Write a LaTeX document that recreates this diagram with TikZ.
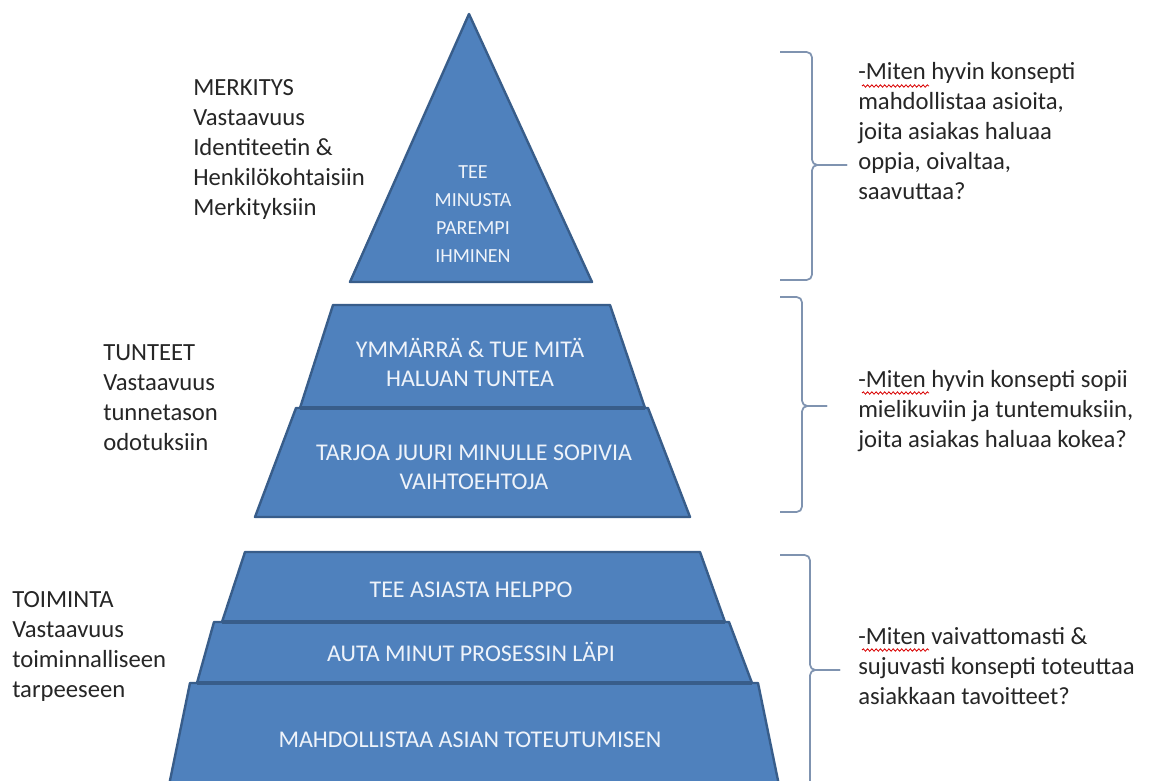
\documentclass[tikz,border=0pt]{standalone}
\usepackage{fontspec}
\setmainfont{Carlito}
\usetikzlibrary{decorations.pathmorphing}
\definecolor{pyrfill}{HTML}{4F81BD}
\definecolor{pyrdraw}{HTML}{385D8A}
\definecolor{bracecol}{HTML}{7F93B0}
\definecolor{txt}{HTML}{262626}
\definecolor{wtxt}{HTML}{EEF3FA}
\begin{document}
\begin{tikzpicture}[x=0.75pt,y=-0.75pt,
  block/.style={fill=pyrfill,draw=pyrdraw,line width=1.8pt,line join=round},
  blocktext/.style={text=wtxt,font=\fontsize{18}{21.75}\selectfont,align=center,inner sep=0pt},
  toptext/.style={text=wtxt,font=\fontsize{15}{21}\selectfont,align=center,inner sep=0pt},
  sidetext/.style={text=txt,font=\fontsize{18.5}{22.5}\selectfont,align=left,anchor=base west,inner sep=0pt},
  bracestyle/.style={draw=bracecol,line width=1.3pt,rounded corners=4pt},
  spell/.style={draw=red!85!black,line width=0.6pt,decorate,decoration={snake,amplitude=0.9pt,segment length=3.2pt}}]
\useasboundingbox (0,0) rectangle (1154,781);
\clip (0,0) rectangle (1154,781);
\fill[white] (0,0) rectangle (1154,781);

% top triangle
\path[block] (469,14) -- (592,282) -- (350,282) -- cycle;
\node[toptext] (t1) at (473,214) {TEE\\MINUSTA\\PAREMPI\\IHMINEN};

% middle section
\path[block] (333,305) -- (610,305) -- (645,408) -- (300,408) -- cycle;
\path[block] (296,408) -- (648,408) -- (690,517) -- (255,517) -- cycle;
\path[block,line width=2.6pt] (300,408) -- (645,408);
\node[blocktext] (m1) at (470,362) {YMMÄRRÄ \& TUE MITÄ\\HALUAN TUNTEA};
\node[blocktext] (m2) at (474,467) {TARJOA JUURI MINULLE SOPIVIA\\VAIHTOEHTOJA};

% bottom section
\path[block] (245,552) -- (700,552) -- (725,622) -- (222,622) -- cycle;
\path[block] (214,622) -- (729,622) -- (752,683) -- (197,683) -- cycle;
\path[block] (190,683) -- (758,683) -- (782,800) -- (166,800) -- cycle;
\path[block,line width=2.6pt] (222,622) -- (725,622);
\path[block,line width=2.6pt] (197,683) -- (752,683);
\node[blocktext] (b1) at (471,590) {TEE ASIASTA HELPPO};
\node[blocktext] (b2) at (471,652) {AUTA MINUT PROSESSIN LÄPI};
\node[blocktext] (b3) at (470,740) {MAHDOLLISTAA ASIAN TOTEUTUMISEN};

% left labels (anchor = baseline of last line)
\node[sidetext] (l1) at (193,216) {MERKITYS\\Vastaavuus\\Identiteetin \&\\Henkilökohtaisiin\\Merkityksiin};
\node[sidetext] (l2) at (103,450) {TUNTEET\\Vastaavuus\\tunnetason\\odotuksiin};
\node[sidetext] (l3) at (12,697) {TOIMINTA\\Vastaavuus\\toiminnalliseen\\tarpeeseen};

% braces
\draw[bracestyle] (780,52) -- (812,52) -- (812,165) -- (847,165);
\draw[bracestyle] (847,165) -- (812,165) -- (812,280) -- (780,280);
\draw[bracestyle] (780,297) -- (802,297) -- (802,406) -- (827,406);
\draw[bracestyle] (827,406) -- (802,406) -- (802,512) -- (780,512);
\draw[bracestyle] (780,555) -- (810,555) -- (810,670) -- (840,670);
\draw[bracestyle] (840,670) -- (810,670) -- (810,800);

% right texts (anchor = baseline of last line)
\node[sidetext] (r1) at (858,200) {-Miten hyvin konsepti\\mahdollistaa asioita,\\joita asiakas haluaa\\oppia, oivaltaa,\\saavuttaa?};
\node[sidetext] (r2) at (858,447) {-Miten hyvin konsepti sopii\\mielikuviin ja tuntemuksiin,\\joita asiakas haluaa kokea?};
\node[sidetext] (r3) at (858,704) {-Miten vaivattomasti \&\\sujuvasti konsepti toteuttaa\\asiakkaan tavoitteet?};

% spell-check underlines
\draw[spell] (862,86) -- (929,86);
\draw[spell] (862,393) -- (929,393);
\draw[spell] (862,650) -- (929,650);
\end{tikzpicture}
\end{document}
